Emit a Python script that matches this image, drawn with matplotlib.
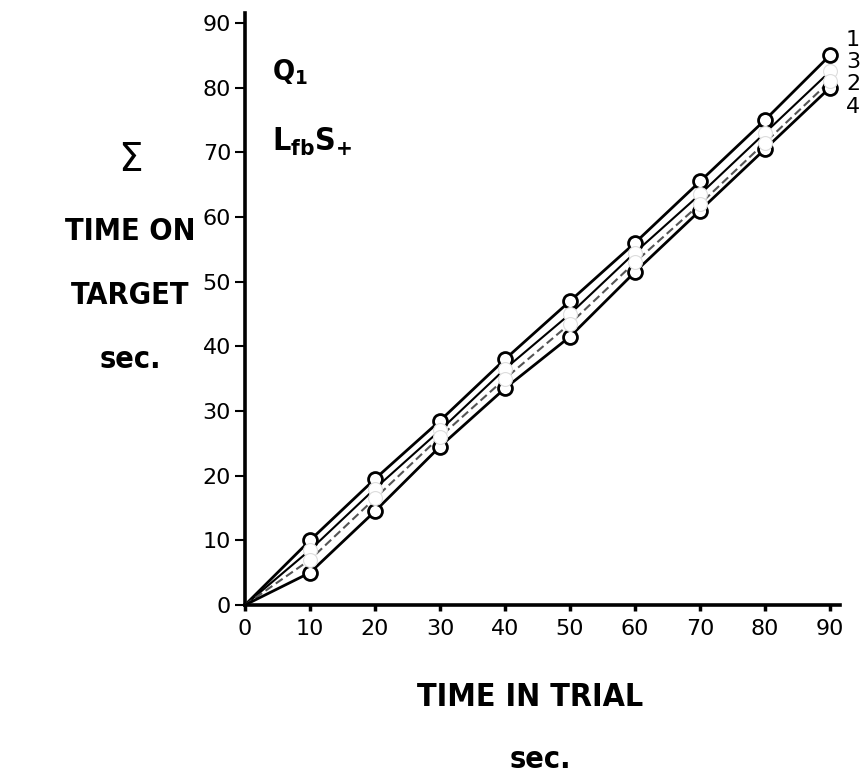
import matplotlib
matplotlib.use("Agg")
import matplotlib.pyplot as plt
from matplotlib import font_manager

# ---- data ----
time_in_trial = [0, 10, 20, 30, 40, 50, 60, 70, 80, 90]
curve_1 = [0, 10.0, 19.5, 28.5, 38.0, 47.0, 56.0, 65.5, 75.0, 85.0]
curve_3 = [0, 8.5, 18.0, 27.0, 36.5, 45.0, 54.5, 63.5, 73.0, 82.5]
curve_2 = [0, 7.0, 16.5, 26.0, 35.0, 43.5, 53.0, 62.0, 71.5, 81.0]
curve_4 = [0, 5.0, 14.5, 24.5, 33.5, 41.5, 51.5, 61.0, 70.5, 80.0]
curve_labels = ["1", "3", "2", "4"]
x_ticks = [0, 10, 20, 30, 40, 50, 60, 70, 80, 90]
y_ticks = [0, 10, 20, 30, 40, 50, 60, 70, 80, 90]

condensed = any(f.name == "DejaVu Sans" and f.stretch in ("condensed", 300, "semi-condensed")
                for f in font_manager.fontManager.ttflist)

W, H = 864, 779
fig = plt.figure(figsize=(W / 100, H / 100), dpi=100)
x0, x_end = 245, 245 + 91.5 * 6.5
y0, y_end = 605, 605 - 91.5 * 6.467
ax = fig.add_axes([x0 / W, 1 - y0 / H, (x_end - x0) / W, (y0 - y_end) / H])
ax.set_xlim(0, 91.5)
ax.set_ylim(0, 91.5)

ax.plot(time_in_trial, curve_1, color="black", lw=2.0, zorder=3)
ax.plot(time_in_trial, curve_3, color="black", lw=1.5, zorder=3)
ax.plot(time_in_trial, curve_2, color="#555555", lw=1.5, ls=(0, (4, 2)), zorder=3)
ax.plot(time_in_trial, curve_4, color="black", lw=2.0, zorder=3)

xs = time_in_trial[1:]
ax.plot(xs, curve_1[1:], ls="none", marker="o", ms=10, mfc="white", mec="black", mew=2.0, zorder=4)
ax.plot(xs, curve_4[1:], ls="none", marker="o", ms=10, mfc="white", mec="black", mew=2.0, zorder=4)
ax.plot(xs, curve_3[1:], ls="none", marker="o", ms=10, mfc="white", mec="#dddddd", mew=0.8, zorder=5)
ax.plot(xs, curve_2[1:], ls="none", marker="o", ms=10, mfc="white", mec="#dddddd", mew=0.8, zorder=5)

for spine in ["top", "right"]:
    ax.spines[spine].set_visible(False)
for spine in ["left", "bottom"]:
    ax.spines[spine].set_linewidth(2.6)

ax.set_xticks(x_ticks)
ax.set_yticks(y_ticks)
ax.tick_params(axis="y", direction="out", length=7, width=1.5, pad=3, labelsize=16)
ax.tick_params(axis="x", direction="out", length=4, width=2.5, pad=6, labelsize=16)

# curve labels at right end
label_y_px = [40, 62, 84, 107]
for lab, py in zip(curve_labels, label_y_px):
    fig.text(853 / W, 1 - py / H, lab, fontsize=16, ha="center", va="center")

# condition labels
bold = dict(family="DejaVu Sans", fontweight="bold", fontstretch="condensed" if condensed else "normal")
fig.text(272 / W, 1 - 72 / H, r"Q$_\mathregular{1}$", fontsize=21, ha="left", va="center", **bold)
fig.text(272 / W, 1 - 142 / H, r"L$_\mathregular{fb}$S$_\mathregular{+}$", fontsize=23, ha="left", va="center", **bold)

# y label
fig.text(130 / W, 1 - 160 / H, "Σ", fontsize=28, ha="center", va="center")
fig.text(130 / W, 1 - 232 / H, "TIME ON", fontsize=22, ha="center", va="center", **bold)
fig.text(130 / W, 1 - 296 / H, "TARGET", fontsize=22, ha="center", va="center", **bold)
fig.text(130 / W, 1 - 360 / H, "sec.", fontsize=22, ha="center", va="center", **bold)

# x label
fig.text(530 / W, 1 - 697 / H, "TIME IN TRIAL", fontsize=23, ha="center", va="center", **bold)
fig.text(540 / W, 1 - 760 / H, "sec.", fontsize=22, ha="center", va="center", **bold)

fig.savefig("out.png", dpi=100, facecolor="white")
